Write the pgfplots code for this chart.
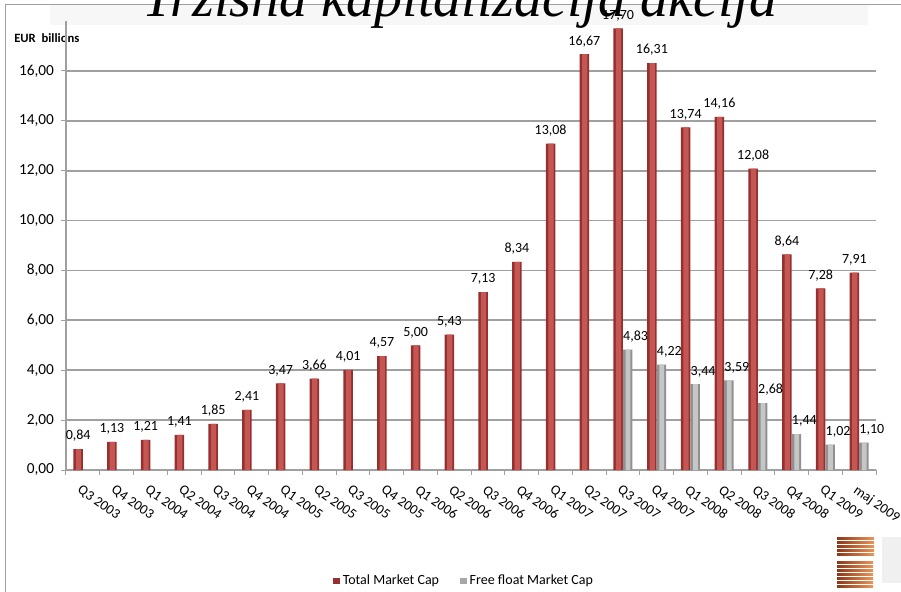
\documentclass[border=0pt]{standalone}
\usepackage{pgfplots}
\pgfplotsset{compat=1.18}
\usepackage{fontspec}
\setmainfont{Carlito}
\newfontfamily\titlefont{Liberation Serif}
\definecolor{redD}{RGB}{150,48,46}
\definecolor{redM}{RGB}{196,86,83}
\definecolor{grD}{RGB}{145,145,145}
\definecolor{grM}{RGB}{198,198,198}
\definecolor{gridc}{RGB}{160,160,160}
\definecolor{logoD}{RGB}{140,55,25}
\definecolor{logoL}{RGB}{235,150,90}
\begin{document}
\begin{tikzpicture}[x=0.75pt,y=-0.75pt]
\clip (0,0) rectangle (901,592);
\fill[gray!6] (50,5) rectangle (868,25);
\draw[gray!75, line width=0.75pt] (5,592) -- (5,5) -- (901,5);
\node[anchor=base, inner sep=0pt, font=\titlefont\itshape\fontsize{42}{42}\selectfont] at (460,17) {Tržišna kapitalizacija akcija};
\node[anchor=base west, inner sep=0pt, font=\bfseries\fontsize{9.5}{11}\selectfont] at (14,43) {EUR\ \ billions};
% logo
\foreach \yy in {537,541,545,549,553}
  \shade[left color=logoD, right color=logoL] (837,\yy) rectangle (874,\yy+2.4);
\foreach \yy in {561,565,569,573,577,581,585}
  \shade[left color=logoD, right color=logoL] (837,\yy) rectangle (873,\yy+2.4);
\fill[gray!12] (882,537) rectangle (901,583);
\begin{axis}[
  at={(49.5pt,-352.5pt)}, anchor=south west,
  scale only axis, width=607.5pt, height=336.75pt,
  xmin=-0.5, xmax=23.5, ymin=0, ymax=18,
  ybar=0pt, bar width=7.1pt,
  axis x line*=bottom, axis y line*=left,
  axis line style={gridc, line width=1.5pt, -},
  ymajorgrids, major grid style={gridc, line width=1.4pt},
  ytick={0,2,...,16},
  xtick={0,...,23},
  xticklabels={Q3 2003,Q4 2003,Q1 2004,Q2 2004,Q3 2004,Q4 2004,Q1 2005,Q2 2005,Q3 2005,Q4 2005,Q1 2006,Q2 2006,Q3 2006,Q4 2006,Q1 2007,Q2 2007,Q3 2007,Q4 2007,Q1 2008,Q2 2008,Q3 2008,Q4 2008,Q1 2009,maj 2009},
  minor xtick={-0.5,0.5,...,23.5},
  tick align=outside,
  major x tick style={draw=none},
  minor x tick style={gridc, line width=0.75pt},
  major y tick style={gridc, line width=0.75pt},
  major tick length=3.5pt, minor tick length=3.5pt,
  x tick label style={rotate=-35, anchor=north west, inner sep=0pt, font=\fontsize{10.5}{12}\selectfont, xshift=3.5pt, yshift=-6pt},
  y tick label style={font=\fontsize{11.5}{13}\selectfont, xshift=-2pt},
  yticklabel style={/pgf/number format/fixed, /pgf/number format/fixed zerofill, /pgf/number format/precision=2, /pgf/number format/use comma, /pgf/number format/assume math mode=true},
  every node near coord/.append style={text=black, font=\fontsize{10.5}{12}\selectfont, yshift=2pt,
    /pgf/number format/fixed, /pgf/number format/fixed zerofill, /pgf/number format/precision=2, /pgf/number format/use comma, /pgf/number format/assume math mode=true},
  legend style={at={(0.492,-0.247)}, anchor=center, draw=none, fill=none,
    legend columns=2, font=\fontsize{10.5}{12}\selectfont,
    /tikz/every even column/.append style={column sep=14pt}},
]
\pgfplotstableread{
x y
0 0.84
1 1.13
2 1.21
3 1.41
4 1.85
5 2.41
6 3.47
7 3.66
8 4.01
9 4.57
10 5.00
11 5.43
12 7.13
13 8.34
14 13.08
15 16.67
16 17.70
17 16.31
18 13.74
19 14.16
20 12.08
21 8.64
22 7.28
23 7.91
}\totaldata
\pgfplotstableread{
x y
16 4.83
17 4.22
18 3.44
19 3.59
20 2.68
21 1.44
22 1.02
23 1.10
}\freedata
\addplot[draw=none, fill=redD, bar width=7.1pt, bar shift=-3.55pt, nodes near coords,
  legend image code/.code={\fill[redD] (0pt,-2.5pt) rectangle (5pt,2.5pt);}]
  table[x=x, y=y] {\totaldata};
\addlegendentry{Total Market Cap}
\addplot[draw=none, fill=redM, bar width=4pt, bar shift=-3.3pt, forget plot]
  table[x=x, y=y] {\totaldata};
\addplot[draw=none, fill=grD, bar width=7.1pt, bar shift=3.55pt, nodes near coords,
  every node near coord/.append style={xshift=6pt},
  legend image code/.code={\fill[grD!80] (0pt,-2.5pt) rectangle (5pt,2.5pt);}]
  table[x=x, y=y] {\freedata};
\addlegendentry{Free float Market Cap}
\addplot[draw=none, fill=grM, bar width=3.6pt, bar shift=3.8pt, forget plot]
  table[x=x, y=y] {\freedata};
\end{axis}
\end{tikzpicture}
\end{document}
